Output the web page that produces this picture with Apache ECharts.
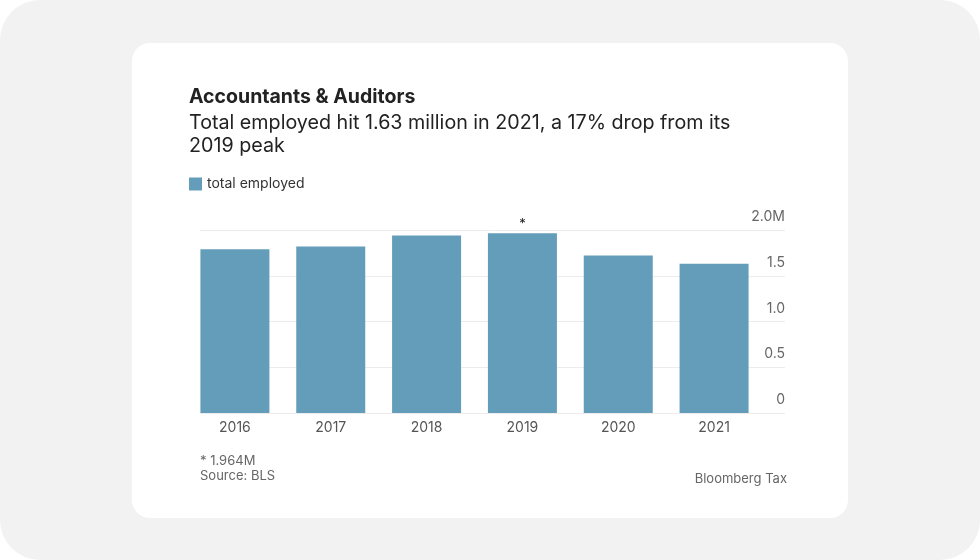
<!DOCTYPE html>
<html>
<head>
<meta charset="utf-8">
<script src="https://cdn.jsdelivr.net/npm/echarts@6/dist/echarts.min.js"></script>
<style>
  html, body { margin: 0; padding: 0; background: #fff; }
  .page { position: relative; width: 980px; height: 560px; background: #f2f2f2; border-radius: 40px; overflow: hidden; }
  .card { position: absolute; left: 132px; top: 43px; width: 716px; height: 475px; background: #fff; border-radius: 18px; }
  #chart { position: absolute; left: 0; top: 0; width: 980px; height: 560px; }
</style>
</head>
<body>
<div class="page">
  <div class="card"></div>
  <div id="chart"></div>
</div>
<script>
// data
const years = ['2016', '2017', '2018', '2019', '2020', '2021']
const totalEmployed = [1790000, 1820000, 1940000, 1964000, 1720000, 1630000]
const yTickLabels = ['0', '0.5', '1.0', '1.5', '2.0M']
const peakIndex = 3

const FONT = 'Inter, "Noto Sans", sans-serif'
const BAR = '#649db9'
const yMax = 2000000
const yStep = 500000

const chart = echarts.init(document.getElementById('chart'))

const option = {
  animation: false,
  backgroundColor: 'transparent',
  textStyle: { fontFamily: FONT },
  title: [
    {
      text: 'Accountants & Auditors',
      left: 184, top: 82,
      textStyle: { fontFamily: FONT, fontSize: 19.5, fontWeight: 'bold', color: '#222' }
    },
    {
      text: 'Total employed hit 1.63 million in 2021, a 17% drop from its\n2019 peak',
      left: 184, top: 107,
      textStyle: { fontFamily: FONT, fontSize: 19.7, fontWeight: 'normal', color: '#222', lineHeight: 23 }
    },
    {
      text: '* 1.964M\nSource: BLS',
      left: 195, top: 449,
      textStyle: { fontFamily: FONT, fontSize: 13, fontWeight: 'normal', color: '#666', lineHeight: 15 }
    },
    {
      text: 'Bloomberg Tax',
      right: 188, top: 468,
      textStyle: { fontFamily: FONT, fontSize: 13, fontWeight: 'normal', color: '#666' }
    }
  ],
  legend: {
    left: 184, top: 172,
    icon: 'rect',
    itemWidth: 13, itemHeight: 13, itemGap: 6,
    textStyle: { fontFamily: FONT, fontSize: 14, color: '#333' },
    data: ['total employed']
  },
  grid: [
    { left: 187, right: 218, top: 230, bottom: 147 },   // bars
    { left: 200, right: 195, top: 230, bottom: 147 }    // gridlines + labels
  ],
  xAxis: [
    {
      type: 'category', gridIndex: 0, data: years,
      axisLine: { show: false }, axisTick: { show: false },
      axisLabel: { fontFamily: FONT, fontSize: 14, color: '#555', margin: 8 }
    },
    { type: 'value', gridIndex: 1, show: false }
  ],
  yAxis: [
    { type: 'value', gridIndex: 0, min: 0, max: yMax, interval: yStep, show: false },
    {
      type: 'value', gridIndex: 1, position: 'right', min: 0, max: yMax, interval: yStep,
      axisLine: { show: false }, axisTick: { show: false },
      splitLine: { show: true, lineStyle: { color: '#ececec', width: 1 } },
      axisLabel: {
        inside: true, margin: 0, align: 'right', verticalAlign: 'bottom',
        padding: [0, 0, 6, 0],
        fontFamily: FONT, fontSize: 14, color: '#666',
        formatter: (v) => yTickLabels[Math.round(v / yStep)]
      }
    }
  ],
  series: [
    {
      name: 'total employed',
      type: 'bar',
      xAxisIndex: 0, yAxisIndex: 0,
      z: 3,
      barWidth: 69,
      itemStyle: { color: BAR },
      data: totalEmployed.map((v, i) => i === peakIndex ? {
        value: v,
        label: { show: true, position: 'top', distance: 3, formatter: '*', fontSize: 13, color: '#222', fontFamily: FONT }
      } : v)
    }
  ]
}

chart.setOption(option)
</script>
</body>
</html>
